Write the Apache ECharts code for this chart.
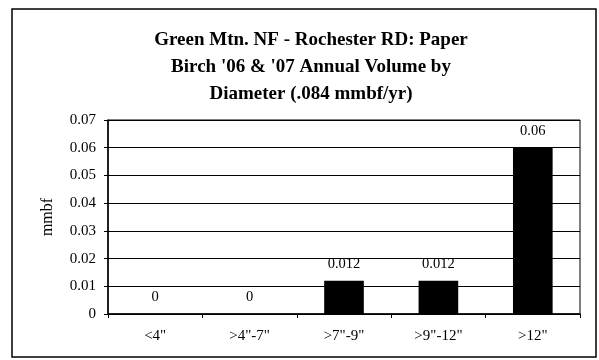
<!DOCTYPE html>
<html>
<head>
<meta charset="utf-8">
<script src="https://cdn.jsdelivr.net/npm/echarts@6/dist/echarts.min.js"></script>
<style>
  html, body { margin: 0; padding: 0; background: #fff; }
  #chart { width: 599px; height: 360px; }
</style>
</head>
<body>
<div id="chart"></div>
<script>
// 数据
var categories = ['<4"', '>4"-7"', '>7"-9"', '>9"-12"', '>12"'];
var volumes = [0, 0, 0.012, 0.012, 0.06];
var titleLines = ['Green Mtn. NF - Rochester RD: Paper', "Birch '06 & '07 Annual Volume by", 'Diameter (.084 mmbf/yr)'];

var serif = '"Liberation Serif", "Times New Roman", serif';

var chart = echarts.init(document.getElementById('chart'));

var option = {
    animation: false,
    backgroundColor: '#fff',
    title: {
        text: titleLines.join('\n'),
        left: 306,
        top: 22,
        textAlign: 'center',
        textStyle: {
            fontFamily: serif,
            fontSize: 19,
            fontWeight: 'bold',
            color: '#000',
            lineHeight: 27
        }
    },
    // 外框
    graphic: [{
        type: 'rect',
        shape: { x: 12, y: 9, width: 584, height: 348 },
        style: { fill: 'none', stroke: '#000', lineWidth: 1.5 },
        silent: true
    }],
    grid: {
        left: 108,
        right: 19,
        top: 120,
        bottom: 46,
        show: true,
        borderColor: '#000',
        borderWidth: 1
    },
    xAxis: {
        type: 'category',
        data: categories,
        axisLine: { lineStyle: { color: '#000', width: 1.5 } },
        axisTick: { show: true, length: 4, lineStyle: { color: '#000' } },
        axisLabel: { fontFamily: serif, fontSize: 15, color: '#000', margin: 15 }
    },
    yAxis: {
        type: 'value',
        name: 'mmbf',
        nameLocation: 'middle',
        nameGap: 52,
        nameTextStyle: { fontFamily: serif, fontSize: 16, color: '#000' },
        min: 0,
        max: 0.07,
        interval: 0.01,
        axisLine: { show: true, lineStyle: { color: '#000', width: 1.5 } },
        axisTick: { show: true, length: 4, lineStyle: { color: '#000' } },
        axisLabel: {
            fontFamily: serif, fontSize: 15, color: '#000', margin: 12,
            formatter: function (v) { return v === 0 ? '0' : v.toFixed(2); }
        },
        splitLine: { lineStyle: { color: '#000', width: 1 } }
    },
    series: [{
        type: 'bar',
        data: volumes,
        barWidth: '42%',
        itemStyle: { color: '#000' },
        label: {
            show: true,
            position: 'top',
            distance: 9,
            fontFamily: serif,
            fontSize: 14.5,
            color: '#000',
            formatter: function (p) { return String(p.value); }
        }
    }]
};

chart.setOption(option);
</script>
</body>
</html>
